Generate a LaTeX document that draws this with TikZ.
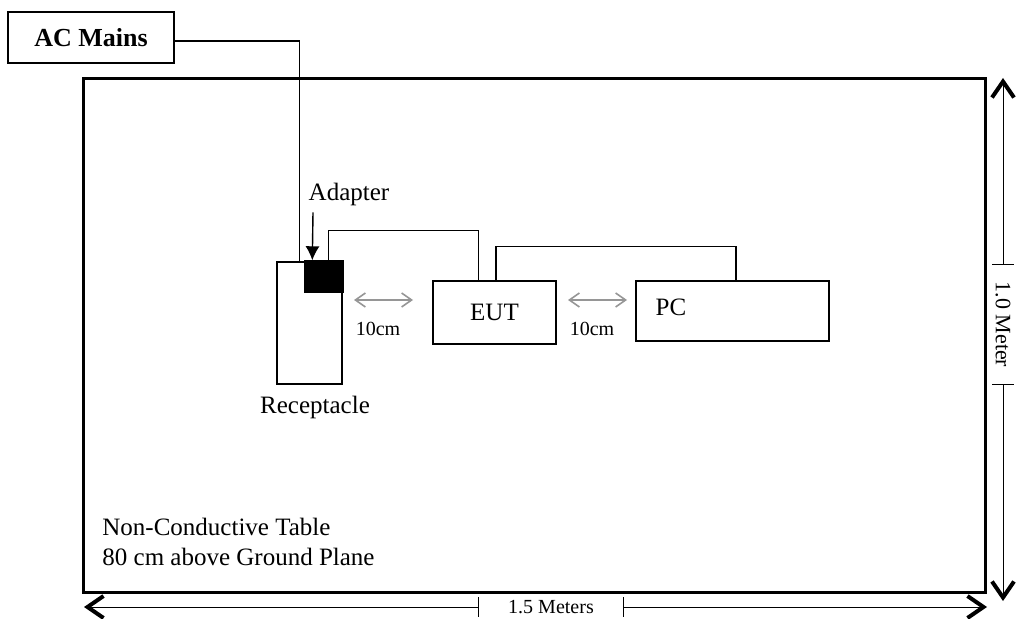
\documentclass[tikz,border=0pt]{standalone}
\usepackage{fontspec}
\setmainfont{Liberation Serif}
\usetikzlibrary{arrows.meta}
\definecolor{mygray}{RGB}{150,150,150}

\begin{document}
\begin{tikzpicture}[x=0.5pt, y=-0.5pt, >={Straight Barb[length=8pt,width=11pt,line width=2pt]},
		font=\fontsize{12.5}{15}\selectfont,
		box/.style={draw, line width=0.7pt, inner sep=0pt},
		kabel/.style={line width=0.7pt},
		abstand/.style={mygray, line width=0.8pt, {Straight Barb[length=5pt,width=7pt,line width=0.8pt]}-{Straight Barb[length=5pt,width=7pt,line width=0.8pt]}},
		mass/.style={line width=0.5pt, ->},
		klein/.style={font=\fontsize{10}{12}\selectfont}]
				\useasboundingbox (0,0) rectangle (1016,619);
				% Tisch
				\node[draw, line width=1.5pt, inner sep=0pt, minimum width=451pt, minimum height=256.5pt] (tisch) at (534,335.5) {};
				\node[anchor=north west, align=left, inner sep=0pt] (tischtext) at (102,518) {Non-Conductive Table\\80 cm above Ground Plane};
				% Netz
				\node[box, line width=0.8pt, minimum width=83pt, minimum height=25.5pt, font=\bfseries\fontsize{13}{15}\selectfont] (netz) at (91,37.5) {AC Mains};
				% Steckdose mit Adapter
				\node[box, minimum width=32.5pt, minimum height=61pt] (dose) at (309.5,323) {};
				\node[box, fill=black, minimum width=19pt, minimum height=15.5pt] (adapter) at (324,276.5) {};
				\node (doselbl) at (315,407) {Receptacle};
				\node (adapterlbl) at (349,194) {Adapter};
				% Geraete
				\node[box, minimum width=61.5pt, minimum height=31.5pt] (eut) at (494.5,312.5) {EUT};
				\node[box, minimum width=96.5pt, minimum height=30pt] (pc) at (732.5,311) {};
				\node (pclbl) at (671,307) {PC};
				% Kabel
				\draw[kabel] ([yshift=-1.75pt]netz.east) -| ([xshift=11.5pt]dose.north west);
				\draw[kabel] ([xshift=12pt]adapter.north west) -- ++(0,-30) -| ([xshift=23pt]eut.north west);
				\draw[kabel] ([xshift=0.75pt]eut.north) -- ++(0,-34) -| ([xshift=1.75pt]pc.north);
				\draw[kabel, -{Latex[length=7pt,width=7pt]}] ([xshift=-18pt]adapterlbl.south) -- ([xshift=4pt]adapter.north west);
				% Abstaende
				\foreach \x in {354,568} {
					\coordinate (a\x) at (\x,300);
					\coordinate (b\x) at (\x+59,300);
					\draw[abstand] (a\x) -- (b\x);
					\node[klein] (abst\x) at (\x+24,329) {10cm};
				}
				% Masse
				\coordinate (hl) at (84,607);
				\coordinate (hr) at (987,607);
				\node[klein, inner sep=0pt, minimum width=72pt] (breite) at (551,607) {1.5 Meters};
				\draw[mass] (breite.west) -- (hl);
				\draw[mass] (breite.east) -- (hr);
				\foreach \s in {west,east} \draw[line width=0.7pt] ([yshift=5pt]breite.\s) -- ([yshift=-5pt]breite.\s);
				\coordinate (vt) at (1003,78);
				\coordinate (vb) at (1003,601);
				\node[klein, font=\fontsize{11}{13}\selectfont, rotate=-90, inner sep=0pt, minimum width=59.5pt] (hoehe) at (1003,324.5) {1.0 Meter};
				\draw[mass] (hoehe.west) -- (vt);
				\draw[mass] (hoehe.east) -- (vb);
				\foreach \s in {west,east} \draw[line width=0.7pt] ([xshift=-5.5pt]hoehe.\s) -- ([xshift=5.5pt]hoehe.\s);
\end{tikzpicture}
\end{document}
